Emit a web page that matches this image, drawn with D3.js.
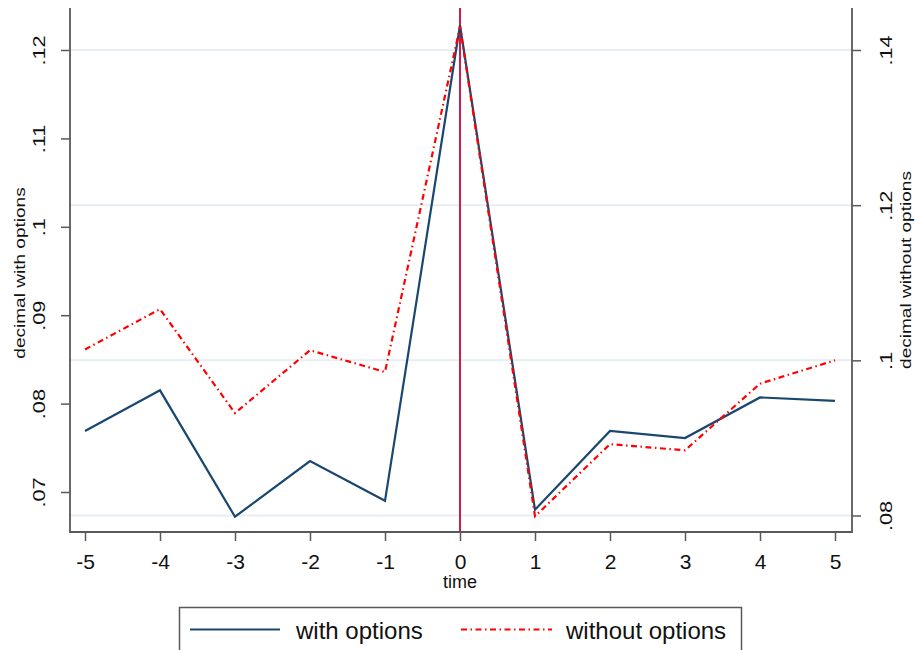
<!DOCTYPE html>
<html>
<head>
<meta charset="utf-8">
<script src="https://cdn.jsdelivr.net/npm/d3@7"></script>
<style>
  body { margin: 0; background: #fff; }
  text { font-family: "Liberation Sans", Arial, sans-serif; fill: #111; }
</style>
</head>
<body>
<div id="chart"></div>
<script>
// data
const time = [-5, -4, -3, -2, -1, 0, 1, 2, 3, 4, 5];
const withOptions = [0.0769, 0.0815, 0.0672, 0.0735, 0.0690, 0.1228, 0.0680, 0.0769, 0.0761, 0.0807, 0.0803];
const withoutOptions = [0.1014, 0.1066, 0.0932, 0.1013, 0.0985, 0.1430, 0.0799, 0.0892, 0.0884, 0.0970, 0.1000];
const leftTicks = [0.07, 0.08, 0.09, 0.10, 0.11, 0.12];
const rightTicks = [0.08, 0.10, 0.12, 0.14];
const eventTime = 0;

const width = 915, height = 650;
const plot = { left: 70, right: 852, top: 8, bottom: 532 };

const svg = d3.select('#chart').append('svg')
  .attr('width', width)
  .attr('height', height);

const x = d3.scaleLinear().domain([-5, 5]).range([85, 835]);
const yL = d3.scaleLinear().domain([0.07, 0.12]).range([492, 50]);
const yR = d3.scaleLinear().domain([0.08, 0.14]).range([515.5, 50]);

// stata style ".12" labels
const fmt = v => d3.format('.2~f')(v).replace(/^0\./, '.');

const axisColor = '#595959';
// rotated text in the reference is stretched along its length
const stretch = 1.36;

// grid lines (from the right axis)
svg.append('g')
  .selectAll('line')
  .data(rightTicks)
  .join('line')
    .attr('x1', plot.left)
    .attr('x2', plot.right)
    .attr('y1', d => yR(d))
    .attr('y2', d => yR(d))
    .attr('stroke', '#e6eef1')
    .attr('stroke-width', 2);

// vertical line at event time
svg.append('line')
  .attr('x1', x(eventTime))
  .attr('x2', x(eventTime))
  .attr('y1', plot.top)
  .attr('y2', plot.bottom)
  .attr('stroke', '#d01c4b')
  .attr('stroke-width', 2);

const lineL = d3.line()
  .x((d, i) => x(time[i]))
  .y(d => yL(d));

const lineR = d3.line()
  .x((d, i) => x(time[i]))
  .y(d => yR(d));

svg.append('path')
  .datum(withOptions)
  .attr('d', lineL)
  .attr('fill', 'none')
  .attr('stroke', '#1a476f')
  .attr('stroke-width', 2.2);

svg.append('path')
  .datum(withoutOptions)
  .attr('d', lineR)
  .attr('fill', 'none')
  .attr('stroke', '#ff0000')
  .attr('stroke-width', 2.2)
  .attr('stroke-dasharray', '6,3.5,1.5,3.5');

// axes
const styleAxis = g => {
  g.select('.domain').remove();
  g.selectAll('.tick line').attr('stroke', axisColor).attr('stroke-width', 1.5);
  g.selectAll('.tick text').attr('font-size', 21).attr('fill', '#111');
};

const rotateLabels = cx => g => g.selectAll('.tick text')
  .attr('x', 0).attr('y', 0).attr('dy', '0.36em')
  .attr('font-size', 16)
  .attr('text-anchor', 'middle')
  .attr('transform', `translate(${cx},0) rotate(-90) scale(${stretch},1)`);

svg.append('g')
  .attr('transform', `translate(0,${plot.bottom})`)
  .call(d3.axisBottom(x).tickValues(time).tickSize(9).tickPadding(13).tickFormat(d => String(d)))
  .call(styleAxis);

svg.append('g')
  .attr('transform', `translate(${plot.left},0)`)
  .call(d3.axisLeft(yL).tickValues(leftTicks).tickSize(9).tickFormat(fmt))
  .call(styleAxis)
  .call(rotateLabels(39 - plot.left));

svg.append('g')
  .attr('transform', `translate(${plot.right},0)`)
  .call(d3.axisRight(yR).tickValues(rightTicks).tickSize(9).tickFormat(fmt))
  .call(styleAxis)
  .call(rotateLabels(886 - plot.right));

// axis lines (left, bottom, right; no top)
svg.append('path')
  .attr('d', `M${plot.left},${plot.top}V${plot.bottom}H${plot.right}V${plot.top}`)
  .attr('fill', 'none')
  .attr('stroke', axisColor)
  .attr('stroke-width', 1.8);

// axis titles
svg.append('text')
  .attr('transform', `translate(20,273) rotate(-90) scale(${stretch},1)`)
  .attr('dy', '0.36em')
  .attr('text-anchor', 'middle')
  .attr('font-size', 14)
  .text('decimal with options');

svg.append('text')
  .attr('transform', `translate(906,270) rotate(-90) scale(${stretch},1)`)
  .attr('dy', '0.36em')
  .attr('text-anchor', 'middle')
  .attr('font-size', 14)
  .text('decimal without options');

svg.append('text')
  .attr('x', x(0))
  .attr('y', 588)
  .attr('text-anchor', 'middle')
  .attr('font-size', 18)
  .text('time');

// legend
const legend = svg.append('g');
legend.append('rect')
  .attr('x', 179.5)
  .attr('y', 607.5)
  .attr('width', 562)
  .attr('height', 60)
  .attr('fill', '#fff')
  .attr('stroke', axisColor)
  .attr('stroke-width', 1.5);

const legendItems = [
  { label: 'with options', color: '#1a476f', dash: null, x0: 190, x1: 280, tx: 296 },
  { label: 'without options', color: '#ff0000', dash: '6,3.5,1.5,3.5', x0: 461, x1: 552, tx: 566 }
];

legend.selectAll('line')
  .data(legendItems)
  .join('line')
    .attr('x1', d => d.x0)
    .attr('x2', d => d.x1)
    .attr('y1', 629.5)
    .attr('y2', 629.5)
    .attr('stroke', d => d.color)
    .attr('stroke-width', 2.2)
    .attr('stroke-dasharray', d => d.dash);

legend.selectAll('text')
  .data(legendItems)
  .join('text')
    .attr('x', d => d.tx)
    .attr('y', 639)
    .attr('font-size', 24)
    .text(d => d.label);
</script>
</body>
</html>
